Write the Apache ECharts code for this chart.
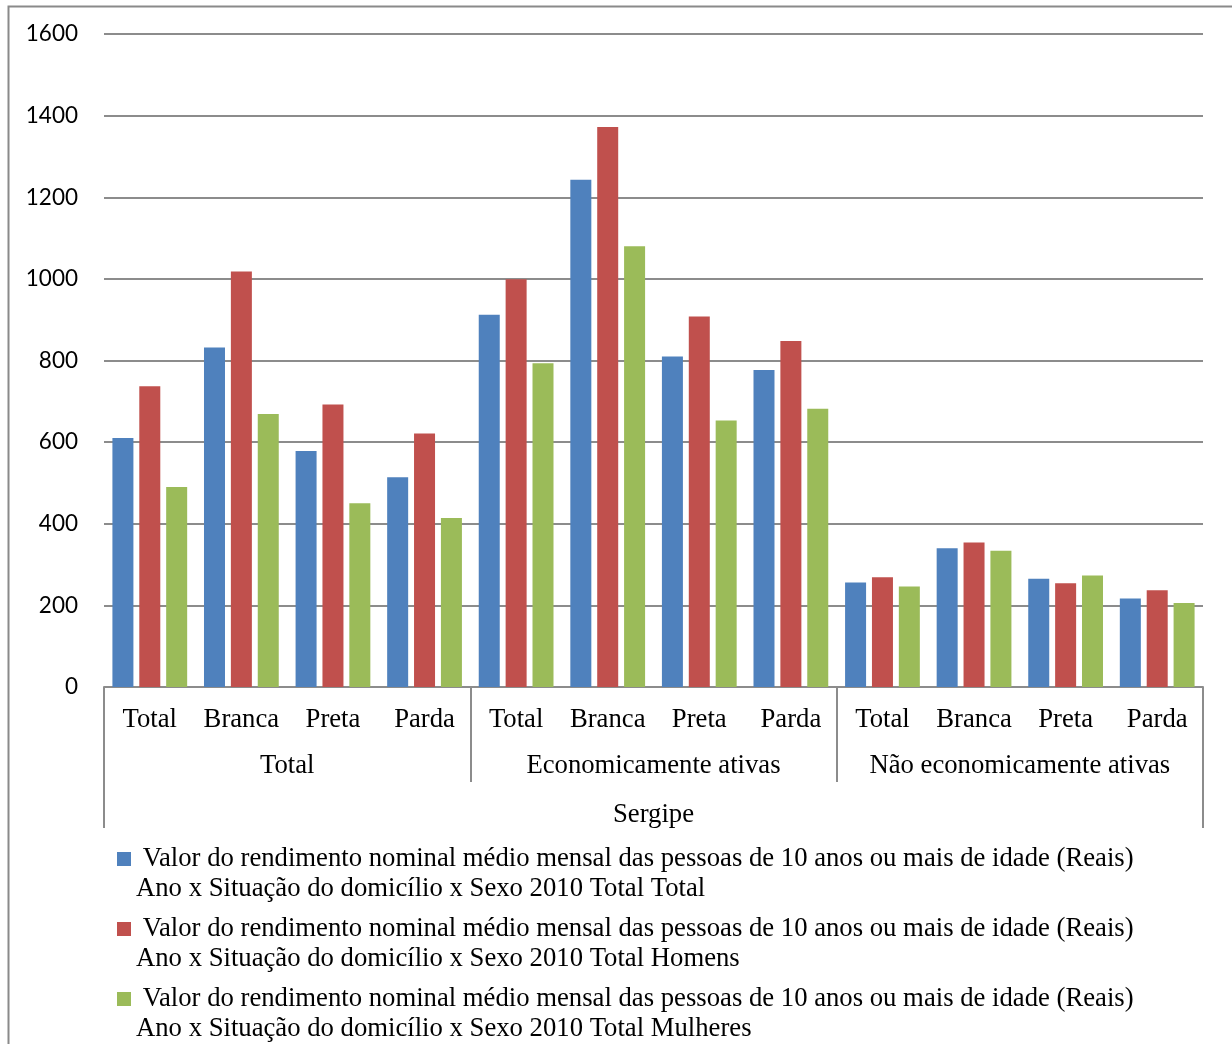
<!DOCTYPE html>
<html><head><meta charset="utf-8">
<script src="https://cdn.jsdelivr.net/npm/echarts@6/dist/echarts.min.js"></script>
<style>html,body{margin:0;padding:0;background:#fff}#c{width:1232px;height:1044px}</style>
</head><body><div id="c"></div>
<script>
const categories = ['Total','Branca','Preta','Parda','Total','Branca','Preta','Parda','Total','Branca','Preta','Parda'];
const groups = ['Total','Economicamente ativas','Não economicamente ativas'];
const region = ['Sergipe'];
const totalTotal    = [610, 832, 578, 514, 912, 1243, 810, 777, 256, 340, 265, 217];
const totalHomens   = [737, 1018, 692, 621, 999, 1372, 908, 848, 269, 354, 254, 237];
const totalMulheres = [490, 669, 450, 414, 793, 1080, 653, 682, 246, 334, 273, 206];
const yTicks = [0, 1600, 200];
const line1 = ' Valor do rendimento nominal médio mensal das pessoas de 10 anos ou mais de idade (Reais)';
const seriesNames = [
  line1 + '\nAno x Situação do domicílio x Sexo 2010 Total Total',
  line1 + '\nAno x Situação do domicílio x Sexo 2010 Total Homens',
  line1 + '\nAno x Situação do domicílio x Sexo 2010 Total Mulheres'
];
const colors = ['#4F81BD', '#C0504D', '#9BBB59'];
const seriesData = [totalTotal, totalHomens, totalMulheres];

const gray = '#8c8c8c';
const serif = 'Liberation Serif, Times New Roman, serif';
const fs = 26.7;
const labelBase = {fontFamily: serif, fontSize: fs, color: '#000', lineHeight: 30, interval: 0};

const chart = echarts.init(document.getElementById('c'), null, {renderer: 'canvas'});
const legendTops = [814, 884, 954];
chart.setOption({
  animation: false,
  backgroundColor: '#fff',
  color: colors,
  grid: {left: 104, right: 29, top: 34, bottom: 357, containLabel: false},
  graphic: [{
    type: 'rect', left: 6, top: 4, silent: true,
    shape: {width: 1225, height: 1100},
    style: {fill: 'none', stroke: '#8a8a8a', lineWidth: 2}
  }],
  legend: seriesNames.map((n, i) => ({
    data: [n], left: 117, top: legendTops[i], padding: 0, orient: 'vertical',
    icon: 'rect', itemWidth: 14, itemHeight: 14, selectedMode: false,
    formatter: name => '\n' + name,
    textStyle: {fontFamily: serif, fontSize: fs, color: '#000', lineHeight: 30}
  })),
  xAxis: [
    {type: 'category', data: categories, position: 'bottom',
     axisLine: {show: true, lineStyle: {color: gray, width: 2}},
     axisTick: {show: false}, splitLine: {show: false},
     axisLabel: Object.assign({margin: 18}, labelBase)},
    {type: 'category', data: groups, position: 'bottom',
     axisLine: {show: false}, splitLine: {show: false},
     axisTick: {show: true, length: 95, interval: 0, lineStyle: {color: gray, width: 2}},
     axisLabel: Object.assign({margin: 64}, labelBase)},
    {type: 'category', data: region, position: 'bottom',
     axisLine: {show: false}, splitLine: {show: false},
     axisTick: {show: true, length: 141, interval: 0, lineStyle: {color: gray, width: 2}},
     axisLabel: Object.assign({margin: 113}, labelBase)}
  ],
  yAxis: {
    type: 'value', min: yTicks[0], max: yTicks[1], interval: yTicks[2],
    axisLine: {show: false}, axisTick: {show: false},
    splitLine: {show: true, lineStyle: {color: gray, width: 2}},
    axisLabel: {fontFamily: 'Lato, Open Sans, sans-serif', fontSize: 22.5, color: '#000', margin: 26,
                formatter: v => String(v)}
  },
  series: seriesData.map((d, i) => ({
    name: seriesNames[i], type: 'bar', xAxisIndex: 0, yAxisIndex: 0,
    data: d, barWidth: 21, barGap: '28%',
    itemStyle: {color: colors[i]}
  }))
});
</script></body></html>
